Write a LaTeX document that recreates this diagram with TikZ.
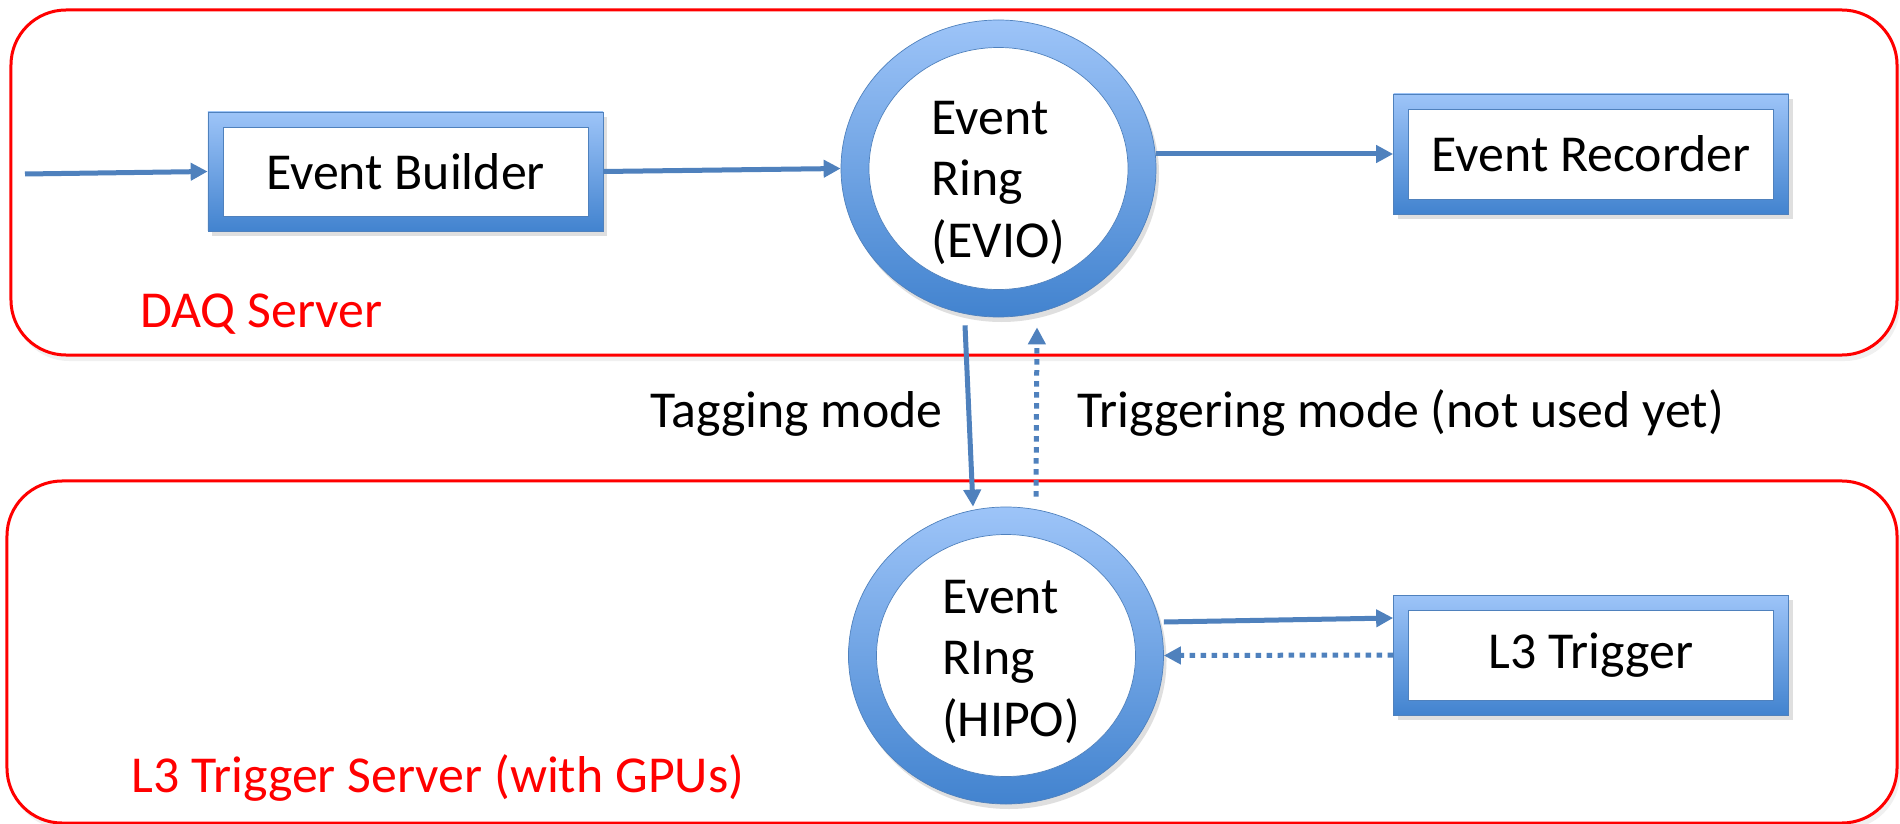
\documentclass[tikz,border=0pt]{standalone}
\usepackage{fontspec}
\setmainfont{Carlito}
\usetikzlibrary{arrows.meta,shapes.geometric,shadows,positioning}

\begin{document}
\begin{tikzpicture}[x=0.2mm, y=-0.2mm, >={Triangle[length=3.4mm,width=3.4mm]}, font=\fontsize{29.5}{35}\selectfont]
	\definecolor{edgeblue}{RGB}{79,129,189}
	\definecolor{lightblue}{RGB}{157,196,248}
	\definecolor{darkblue}{RGB}{66,131,207}
	\tikzset{
		server/.style={draw=red, line width=0.6mm, fill=white, rounded corners=11mm,
			drop shadow={opacity=0.12, shadow xshift=0.6mm, shadow yshift=-1.2mm}},
		servertext/.style={text=red, anchor=base west, inner sep=0pt},
		framebox/.style={rectangle, minimum width=79mm, minimum height=23.8mm, draw=edgeblue, thin,
			top color=lightblue, bottom color=darkblue,
			drop shadow={opacity=0.25, shadow xshift=0.8mm, shadow yshift=-1mm},
			path picture={\filldraw[fill=white, draw=edgeblue]
				([shift={(3mm,-3mm)}]path picture bounding box.north west) rectangle
				([shift={(-3mm,3mm)}]path picture bounding box.south east);}},
		ring/.style={ellipse, minimum width=63mm, minimum height=59.4mm, draw=edgeblue, thin,
			top color=lightblue, bottom color=darkblue,
			drop shadow={opacity=0.25, shadow xshift=0.6mm, shadow yshift=-1mm},
			path picture={\filldraw[fill=white, draw=edgeblue]
				(path picture bounding box.center) ellipse [x radius=25.9mm, y radius=24.2mm];}},
		ringtext/.style={align=left, inner sep=0pt},
		flow/.style={->, draw=edgeblue, line width=1mm},
		backflow/.style={flow, dash pattern=on 1.1mm off 1.1mm}
	}
	\useasboundingbox (0,0) rectangle (1900,824);

	% 两台服务器
	\node[server, minimum width=377.2mm, minimum height=69mm] (daq) at (954,182.5) {};
	\node[server, minimum width=378mm, minimum height=68.4mm] (l3srv) at (952,652) {};
	\node[servertext] (daqlabel) at (140,328) {DAQ Server};
	\node[servertext] (l3label) at (131,792) {L3 Trigger Server (with GPUs)};

	% DAQ 一侧
	\node[framebox] (build) at (405.5,171.5) {Event Builder};
	\node[ring] (evio) at (998.5,168.5) {};
	\node[ringtext] (eviotext) at ([yshift=-2.8mm]evio.center) {Event\\Ring\\(EVIO)};
	\node[framebox, minimum height=24mm] (record) at (1591,154) {Event Recorder};

	% L3 一侧
	\node[ring] (hipo) at (1006,655.5) {};
	\node[ringtext] (hipotext) at ([xshift=1mm,yshift=-1.2mm]hipo.center) {Event\\RIng\\(HIPO)};
	\node[framebox, minimum height=24mm] (l3trig) at (1591,655) {L3 Trigger};

	% 数据流
	\coordinate (in) at (25,174);
	\draw[flow] (in) -- (build.west);
	\draw[flow] (build.east) -- (evio.west);
	\draw[flow] (evio.east |- record.west) -- (record.west);
	\draw[flow] ([xshift=-6.7mm,yshift=-1.6mm]evio.south) -- ([xshift=-6.6mm]hipo.north);
	\draw[backflow] ([xshift=6mm,yshift=2mm]hipo.north) -- ([xshift=7.7mm,yshift=-2mm]evio.south);
	\draw[flow] ([yshift=6.7mm]hipo.east) -- ([yshift=7.4mm]l3trig.west);
	\draw[backflow] (l3trig.west) -- (hipo.east);

	% 模式说明
	\node[anchor=base west, inner sep=0pt] (tagtext) at (650,427) {Tagging mode};
	\node[anchor=base west, inner sep=0pt] (trigtext) at (1077,427) {Triggering mode (not used yet)};
\end{tikzpicture}
\end{document}
